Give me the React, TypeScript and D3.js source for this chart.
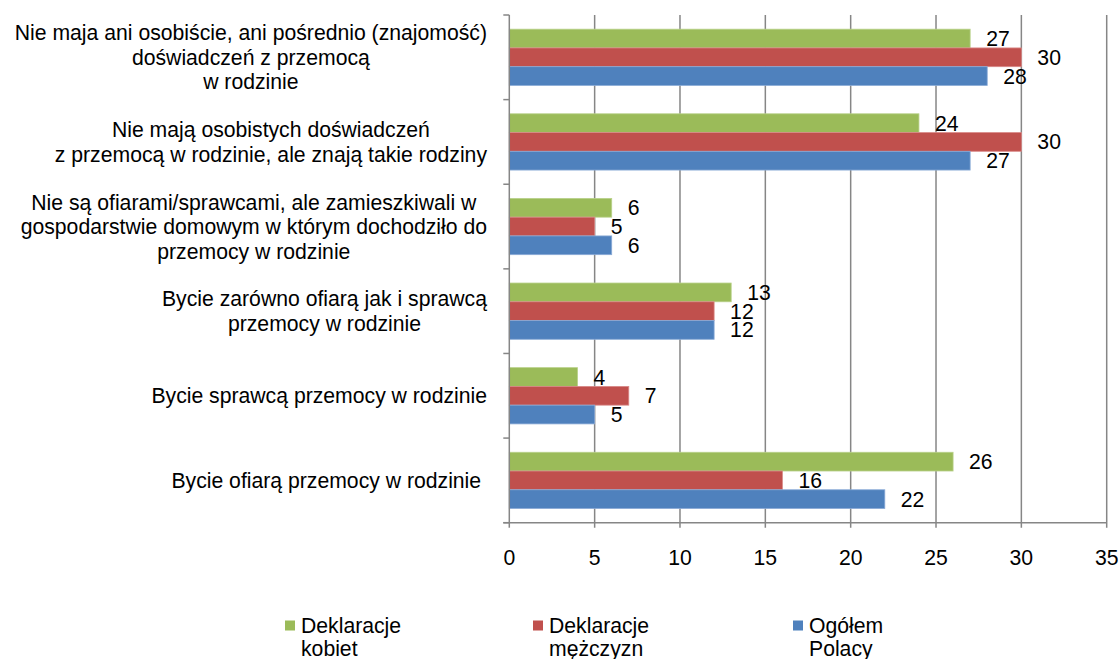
import React, { useEffect, useRef } from "react";
import * as d3 from "d3";

// categories, top to bottom (each one split into its printed lines)
const categories = [
  ["Nie maja ani osobiście, ani pośrednio (znajomość)", "doświadczeń z przemocą", "w rodzinie"],
  ["Nie mają osobistych doświadczeń", "z przemocą w rodzinie, ale znają takie rodziny"],
  ["Nie są ofiarami/sprawcami, ale zamieszkiwali w", "gospodarstwie domowym w którym dochodziło do", "przemocy w rodzinie"],
  ["Bycie zarówno ofiarą jak i sprawcą", "przemocy w rodzinie"],
  ["Bycie sprawcą przemocy w rodzinie"],
  ["Bycie ofiarą przemocy w rodzinie\u00a0"],
];

const kobiet = [27, 24, 6, 13, 4, 26];
const mezczyzn = [30, 30, 5, 12, 7, 16];
const ogolem = [28, 27, 6, 12, 5, 22];

const seriesNames = [["Deklaracje", "kobiet"], ["Deklaracje", "mężczyzn"], ["Ogółem", "Polacy"]];
const seriesColors = ["#9BBB59", "#C0504D", "#4F81BD"];
const seriesEdges = ["#b9d18a", "#d98a88", "#8aaad6"];
const xTicks = [0, 5, 10, 15, 20, 25, 30, 35];

const W = 1120;
const H = 659;
const FONT = "'Liberation Sans', Arial, sans-serif";
const FS = 21.2;

export default function App() {
  const ref = useRef<SVGSVGElement>(null);

  useEffect(() => {
    const svg = d3.select(ref.current);
    svg.selectAll("*").remove();

    const left = 509.3, right = 1106.7, top = 15, bottom = 522.7;
    const x = d3.scaleLinear().domain([0, 35]).range([left, right]);
    const idx = categories.map((_, i) => String(i));
    const y = d3.scaleBand().domain(idx).range([top, bottom]).paddingInner(0.335).paddingOuter(0.1675);
    const inner = d3.scaleBand().domain(["0", "1", "2"]).range([0, y.bandwidth()]);
    const series = [kobiet, mezczyzn, ogolem];
    const step = y.step();

    // gridlines
    svg.append("g").selectAll("line").data(xTicks.slice(1)).enter().append("line")
      .attr("x1", (d) => x(d)).attr("x2", (d) => x(d))
      .attr("y1", top).attr("y2", bottom + 5)
      .attr("stroke", "#868686").attr("stroke-width", 1.5);

    // bars
    series.forEach((vals, s) => {
      svg.append("g").selectAll("rect").data(vals).enter().append("rect")
        .attr("x", x(0))
        .attr("y", (_, i) => (y(String(i)) as number) + (inner(String(s)) as number))
        .attr("width", (d) => x(d) - x(0))
        .attr("height", inner.bandwidth())
        .attr("fill", seriesColors[s])
        .attr("stroke", seriesEdges[s]).attr("stroke-width", 0.8);

      svg.append("g").selectAll("text").data(vals).enter().append("text")
        .attr("x", (d) => x(d) + 16)
        .attr("y", (_, i) => (y(String(i)) as number) + (inner(String(s)) as number) + inner.bandwidth() / 2 + 7.5)
        .attr("font-family", FONT).attr("font-size", FS)
        .text((d) => d);
    });

    // axes
    svg.append("line").attr("x1", left).attr("x2", left).attr("y1", top).attr("y2", bottom)
      .attr("stroke", "#868686").attr("stroke-width", 1.5);
    svg.append("line").attr("x1", left - 6).attr("x2", right).attr("y1", bottom).attr("y2", bottom)
      .attr("stroke", "#868686").attr("stroke-width", 1.5);
    svg.append("g").selectAll("line").data(d3.range(categories.length + 1)).enter().append("line")
      .attr("x1", left - 6).attr("x2", left)
      .attr("y1", (i) => top + i * step).attr("y2", (i) => top + i * step)
      .attr("stroke", "#868686").attr("stroke-width", 1.5);
    svg.append("line").attr("x1", left).attr("x2", left).attr("y1", bottom).attr("y2", bottom + 5)
      .attr("stroke", "#868686").attr("stroke-width", 1.5);

    svg.append("g").selectAll("text").data(xTicks).enter().append("text")
      .attr("x", (d) => x(d)).attr("y", 565)
      .attr("text-anchor", "middle")
      .attr("font-family", FONT).attr("font-size", FS)
      .text((d) => d);

    // category labels: lines centred in a block right-aligned to the axis
    const lh = 24.5;
    categories.forEach((lines, i) => {
      const g = svg.append("g");
      const texts = lines.map((l) => g.append("text")
        .attr("font-family", FONT).attr("font-size", FS)
        .style("white-space", "pre")
        .text(l));
      const widths = texts.map((t) => (t.node() as SVGTextElement).getComputedTextLength());
      const maxW = Math.max(...widths);
      const cx = 487 - maxW / 2;
      const cy = (y(String(i)) as number) + y.bandwidth() / 2;
      texts.forEach((t, k) => {
        t.attr("x", cx).attr("text-anchor", "middle")
          .attr("y", cy + (k - (lines.length - 1) / 2) * lh + 7.5);
      });
    });

    // legend
    const lx = [285, 533, 793];
    seriesNames.forEach((nm, s) => {
      svg.append("rect").attr("x", lx[s]).attr("y", 620.5).attr("width", 10).attr("height", 10)
        .attr("fill", seriesColors[s]);
      nm.forEach((t, k) => {
        svg.append("text").attr("x", lx[s] + 16).attr("y", 633 + k * 23)
          .attr("font-family", FONT).attr("font-size", FS)
          .text(t);
      });
    });
  }, []);

  return (
    <div>
      <style>{"html,body{margin:0;padding:0;overflow:hidden;}"}</style>
      <svg ref={ref} width={W} height={H}
        style={{ position: "fixed", left: 0, top: 0, display: "block", background: "#fff" }} />
    </div>
  );
}
